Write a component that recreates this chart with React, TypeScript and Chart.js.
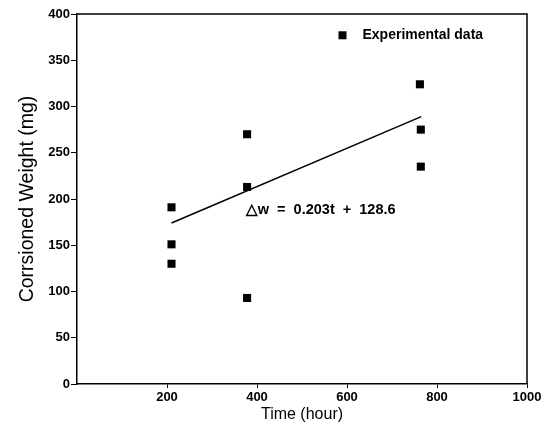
import React, { useEffect, useRef } from "react";
import { Chart, registerables } from "chart.js";
Chart.register(...registerables);

const timeHours = [210, 210, 210, 378, 378, 378, 762, 764, 764];
const weightMg = [191, 151, 130, 270, 213, 93, 324, 275, 235];
const fitTime = [210, 765];
const fitWeight = [174, 289];
const xTicks = [200, 400, 600, 800, 1000];
const yTicks = [0, 50, 100, 150, 200, 250, 300, 350, 400];
const legendLabel = "Experimental data";
const equationLabel = "\u25B3w  =  0.203t  +  128.6";

const FONT = "'Liberation Sans', Arial, sans-serif";

const overlay = {
  id: "overlay",
  afterDraw(chart: any) {
    const { ctx, chartArea, scales } = chart;
    ctx.save();
    ctx.strokeStyle = "#000";
    ctx.lineWidth = 1.5;
    ctx.beginPath();
    ctx.moveTo(chartArea.left, chartArea.top);
    ctx.lineTo(chartArea.right, chartArea.top);
    ctx.lineTo(chartArea.right, chartArea.bottom);
    ctx.stroke();
    // legend
    const lx = scales.x.getPixelForValue(590);
    const ly = scales.y.getPixelForValue(377);
    ctx.fillStyle = "#000";
    ctx.fillRect(lx - 4, ly - 4, 8, 8);
    ctx.font = `bold 14px ${FONT}`;
    ctx.textBaseline = "middle";
    ctx.textAlign = "left";
    ctx.fillText(legendLabel, lx + 20, ly);
    // equation
    const ex = scales.x.getPixelForValue(375);
    const ey = scales.y.getPixelForValue(188);
    ctx.font = `bold 14.5px ${FONT}`;
    ctx.fillText(equationLabel, ex, ey);
    ctx.restore();
  },
};

export default function App() {
  const ref = useRef<HTMLCanvasElement>(null);
  useEffect(() => {
    document.body.style.margin = "0";
    const chart = new Chart(ref.current!, {
      type: "scatter",
      data: {
        datasets: [
          {
            label: legendLabel,
            data: timeHours.map((t, i) => ({ x: t, y: weightMg[i] })),
            pointStyle: "rect",
            pointRadius: 5.7,
            backgroundColor: "#000",
            borderColor: "#000",
            borderWidth: 0,
          },
          {
            label: "fit",
            type: "line",
            data: fitTime.map((t, i) => ({ x: t, y: fitWeight[i] })),
            borderColor: "#000",
            borderWidth: 1.5,
            pointRadius: 0,
            fill: false,
          } as any,
        ],
      },
      options: {
        animation: false,
        responsive: false,
        layout: { padding: { top: 14, right: 25, left: 0, bottom: 0 } },
        plugins: { legend: { display: false }, tooltip: { enabled: false } },
        scales: {
          x: {
            type: "linear",
            min: 0,
            max: 1000,
            afterBuildTicks: (s: any) => {
              s.ticks = xTicks.map((v) => ({ value: v }));
            },
            afterFit: (s: any) => {
              s.height = 44;
            },
            ticks: {
              color: "#000",
              font: { family: FONT, size: 13, weight: "bold" },
              padding: 2,
              callback: (v: any) => String(v),
            },
            grid: { drawOnChartArea: false, drawTicks: true, tickLength: 4, color: "#000", lineWidth: 1 },
            border: { color: "#000", width: 1.5 },
            title: {
              display: true,
              text: "Time (hour)",
              color: "#000",
              font: { family: FONT, size: 16 },
              padding: { top: 0, bottom: 4 },
            },
          },
          y: {
            type: "linear",
            min: 0,
            max: 400,
            afterBuildTicks: (s: any) => {
              s.ticks = yTicks.map((v) => ({ value: v }));
            },
            afterFit: (s: any) => {
              s.width = 77;
            },
            ticks: {
              color: "#000",
              font: { family: FONT, size: 13, weight: "bold" },
              padding: 1,
            },
            grid: { drawOnChartArea: false, drawTicks: true, tickLength: 6, color: "#000", lineWidth: 1 },
            border: { color: "#000", width: 1.5 },
            title: {
              display: true,
              text: "Corrsioned Weight (mg)",
              color: "#000",
              font: { family: FONT, size: 19.5 },
              padding: { top: 16, bottom: 4 },
            },
          },
        },
      },
      plugins: [overlay],
    });
    return () => chart.destroy();
  }, []);
  return (
    <div style={{ width: 552, height: 428, background: "#fff" }}>
      <canvas ref={ref} width={552} height={428} />
    </div>
  );
}
